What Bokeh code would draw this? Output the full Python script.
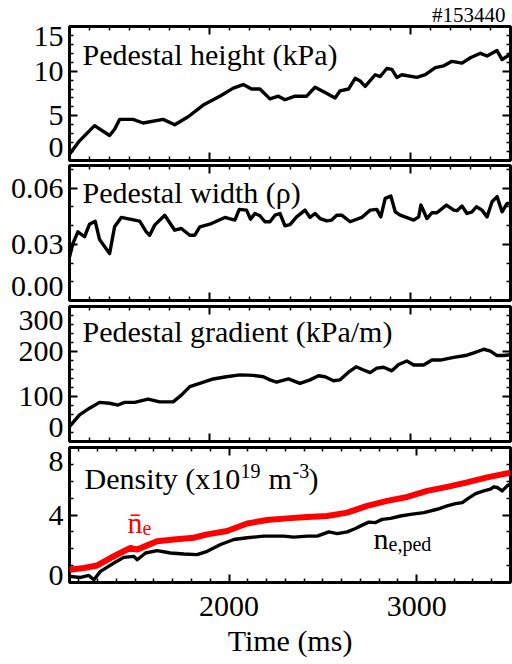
from bokeh.plotting import figure
from bokeh.layouts import column
from bokeh.models import Range1d, LinearAxis, FixedTicker, Label
from bokeh.embed import file_html
from bokeh.resources import INLINE

# ---------------- data ----------------
shot_label = "#153440"

t_height = [1300, 1350, 1425, 1500, 1525, 1550, 1617, 1667, 1767, 1825,
            1892, 1967, 2050, 2117, 2167, 2208, 2250, 2300, 2342, 2375,
            2425, 2483, 2525, 2575, 2625, 2650, 2692, 2725, 2750, 2775,
            2825, 2850, 2883, 2908, 2933, 2958, 3033, 3075, 3125, 3167,
            3208, 3258, 3300, 3350, 3383, 3433, 3458, 3500]
ped_height = [0.7, 2.2, 3.9, 2.8, 3.5, 4.6, 4.6, 4.2, 4.6, 4.0,
              4.9, 6.2, 7.2, 8.1, 8.5, 8.0, 8.0, 6.9, 7.2, 6.8,
              7.2, 7.2, 8.2, 7.6, 7.0, 7.8, 8.0, 9.2, 8.9, 8.3,
              9.6, 9.4, 10.3, 10.2, 9.3, 9.6, 9.3, 9.6, 10.4, 10.6,
              11.1, 10.9, 11.5, 12.0, 11.7, 12.3, 11.3, 11.9]

t_width = [1300, 1317, 1342, 1375, 1400, 1428, 1450, 1500, 1525, 1558,
           1650, 1683, 1700, 1725, 1775, 1825, 1858, 1900, 1925, 1950,
           2000, 2075, 2125, 2147, 2183, 2203, 2225, 2250, 2275, 2300,
           2325, 2350, 2375, 2400, 2433, 2475, 2500, 2525, 2550, 2583,
           2608, 2633, 2658, 2700, 2758, 2800, 2833, 2853, 2875, 2903,
           2925, 2950, 3017, 3042, 3053, 3083, 3108, 3133, 3180, 3217,
           3233, 3258, 3283, 3308, 3330, 3358, 3383, 3408, 3433, 3458,
           3483, 3500]
ped_width = [0.0232, 0.0304, 0.0366, 0.0340, 0.0407, 0.0423, 0.0325, 0.0250, 0.0393, 0.0443,
             0.0423, 0.0366, 0.0348, 0.0402, 0.0455, 0.0375, 0.0384, 0.0348, 0.0348, 0.0393,
             0.0407, 0.0443, 0.0429, 0.0486, 0.0482, 0.0434, 0.0464, 0.0452, 0.0420, 0.0420,
             0.0455, 0.0464, 0.0398, 0.0405, 0.0446, 0.0482, 0.0443, 0.0464, 0.0437, 0.0425,
             0.0429, 0.0455, 0.0455, 0.0420, 0.0443, 0.0482, 0.0486, 0.0446, 0.0545, 0.0557,
             0.0473, 0.0455, 0.0429, 0.0446, 0.0509, 0.0437, 0.0468, 0.0468, 0.0509, 0.0482,
             0.0479, 0.0504, 0.0464, 0.0473, 0.0500, 0.0482, 0.0446, 0.0527, 0.0554, 0.0473,
             0.0518, 0.0518]

t_grad = [1300, 1350, 1400, 1450, 1500, 1542, 1575, 1625, 1692, 1750,
          1817, 1858, 1900, 1950, 2017, 2083, 2150, 2217, 2267, 2300,
          2333, 2392, 2450, 2500, 2542, 2575, 2617, 2650, 2692, 2730,
          2767, 2800, 2833, 2867, 2908, 2942, 2983, 3017, 3067, 3108,
          3150, 3217, 3275, 3317, 3367, 3400, 3433, 3467, 3500]
ped_grad = [33, 59, 74, 87, 85, 81, 87, 87, 94, 88,
            88, 103, 122, 129, 139, 144, 148, 147, 144, 137,
            132, 139, 129, 137, 146, 144, 135, 137, 154, 166,
            159, 153, 163, 165, 157, 171, 179, 170, 170, 181,
            181, 187, 191, 197, 205, 201, 191, 191, 193]

t_ne_ped = [1150, 1209, 1253, 1280, 1315, 1386, 1439, 1493, 1511, 1555,
            1617, 1688, 1759, 1830, 1884, 1955, 2026, 2097, 2185, 2292,
            2345, 2417, 2470, 2532, 2577, 2630, 2674, 2710, 2745, 2781,
            2816, 2861, 2914, 2967, 3038, 3109, 3163, 3207, 3243, 3269,
            3314, 3358, 3393, 3411, 3429, 3456, 3482, 3500]
ne_ped = [0.36, 0.30, 0.42, 0.16, 0.66, 1.15, 1.49, 1.55, 1.35, 1.75,
          1.89, 1.75, 1.69, 1.65, 1.85, 2.25, 2.55, 2.65, 2.75, 2.75,
          2.69, 2.75, 2.75, 3.00, 2.90, 3.00, 3.20, 3.40, 3.58, 3.55,
          3.74, 3.80, 3.94, 4.04, 4.14, 4.34, 4.54, 4.67, 4.73, 4.94,
          5.27, 5.43, 5.53, 5.67, 5.63, 5.43, 5.73, 5.83]

t_ne_bar = [1150, 1226, 1298, 1368, 1439, 1475, 1511, 1564, 1617, 1706,
            1812, 1884, 1990, 2097, 2203, 2310, 2417, 2523, 2630, 2736,
            2843, 2950, 3056, 3163, 3269, 3376, 3447, 3500]
ne_bar = [0.76, 0.86, 1.01, 1.45, 1.85, 2.05, 1.95, 2.20, 2.45, 2.55,
          2.65, 2.85, 3.05, 3.50, 3.70, 3.80, 3.88, 3.94, 4.14, 4.54,
          4.84, 5.07, 5.43, 5.67, 5.93, 6.23, 6.39, 6.50]

x_range_top = (1300, 3500)
x_range_bottom = (1150, 3500)
x_major = [2000, 3000]
x_minor = [1200, 1300, 1400, 1500, 1600, 1700, 1800, 1900, 2100, 2200, 2300,
           2400, 2500, 2600, 2700, 2800, 2900, 3100, 3200, 3300, 3400]

h_range = (0, 15)
h_major = [0, 5, 10, 15]
h_minor = [1, 2, 3, 4, 6, 7, 8, 9, 11, 12, 13, 14]
h_text = ["0", "5", "10", "15"]

w_range = (0, 0.072)
w_major = [0, 0.03, 0.06]
w_minor = [0.01, 0.02, 0.04, 0.05, 0.07]
w_text = ["0.00", "0.03", "0.06"]

g_range = (0, 300)
g_major = [0, 100, 200, 300]
g_minor = [20, 40, 60, 80, 120, 140, 160, 180, 220, 240, 260, 280]
g_text = ["0", "100", "200", "300"]

n_range = (0, 8)
n_major = [0, 4, 8]
n_minor = [1, 2, 3, 5, 6, 7]
n_text = ["0", "4", "8"]

# ---------------- layout constants ----------------
W = 512
FL = 69          # frame left
FW = 441         # frame width
FH = 135         # frame height
FONT = "Liberation Serif"


def ticks_only(ax, major, minor):
    ax.ticker = FixedTicker(ticks=major, minor_ticks=minor)
    ax.axis_line_color = None
    ax.major_tick_in = 8
    ax.major_tick_out = 0
    ax.minor_tick_in = 4
    ax.minor_tick_out = 0
    ax.major_tick_line_color = "black"
    ax.minor_tick_line_color = "black"
    ax.major_tick_line_width = 2
    ax.minor_tick_line_width = 1.5
    ax.major_label_text_color = None
    ax.major_label_text_font_size = "0px"
    ax.major_label_standoff = 0


def label_style(ax, standoff):
    ax.axis_line_color = None
    ax.major_tick_line_color = None
    ax.minor_tick_line_color = None
    ax.major_tick_in = 0
    ax.major_tick_out = 0
    ax.minor_tick_in = 0
    ax.minor_tick_out = 0
    ax.major_label_text_font = FONT
    ax.major_label_text_font_size = "30px"
    ax.major_label_text_color = "black"
    ax.major_label_standoff = standoff


def panel(xr, yr, height, top, bottom, ymaj, ymin, ytext, shift_bottom, shift_top):
    p = figure(width=W, height=height, x_range=Range1d(*xr), y_range=Range1d(*yr),
               output_backend="svg", toolbar_location=None,
               min_border_left=FL, min_border_right=W - FL - FW,
               min_border_top=top, min_border_bottom=bottom)
    p.background_fill_color = "white"
    p.border_fill_color = "white"
    p.outline_line_color = "black"
    p.outline_line_width = 3
    p.xgrid.visible = False
    p.ygrid.visible = False
    ticks_only(p.yaxis[0], ymaj, ymin)
    ticks_only(p.xaxis[0], x_major, x_minor)
    right = LinearAxis()
    ticks_only(right, ymaj, ymin)
    p.add_layout(right, "right")
    above = LinearAxis()
    ticks_only(above, x_major, x_minor)
    p.add_layout(above, "above")
    # y tick labels; like the reference, the labels of the end ticks sit inside the frame height
    per_px = (yr[1] - yr[0]) / FH
    pos = []
    for v in ymaj:
        if v == yr[0]:
            pos.append(v + shift_bottom * per_px)
        elif v == yr[1]:
            pos.append(v - shift_top * per_px)
        else:
            pos.append(v)
    lab = LinearAxis(ticker=FixedTicker(ticks=pos, minor_ticks=[]))
    label_style(lab, 6)
    lab.major_label_overrides = {q: t for q, t in zip(pos, ytext)}
    p.add_layout(lab, "left")
    return p


def add_text(p, xr, yr, ftop, px, py, text, size, color="black", align="left"):
    # px, py: pixel position inside this figure (py measured from figure top)
    x = xr[0] + (px - FL) * (xr[1] - xr[0]) / FW
    y = yr[0] + (ftop + FH - py) * (yr[1] - yr[0]) / FH
    p.add_layout(Label(x=x, y=y, text=text, text_font=FONT, text_font_size=size,
                       text_color=color, text_align=align, text_baseline="alphabetic"))


# Panel 1: pedestal height   (page y 0-164, frame 25-160)
p1 = panel(x_range_top, h_range, 164, 25, 4, h_major, h_minor, h_text, 13, 10)
p1.line(t_height, ped_height, line_color="black", line_width=3.4, line_join="round")
add_text(p1, x_range_top, h_range, 25, 82, 53, "Pedestal height (kPa)", "30px")
p1.title.text = shot_label
p1.title.align = "right"
p1.title.text_font = FONT
p1.title.text_font_size = "21px"
p1.title.text_font_style = "normal"
p1.title.text_color = "black"
p1.title.standoff = 0
p1.title.offset = 5

# Panel 2: pedestal width    (page y 164-303, frame 165-300)
p2 = panel(x_range_top, w_range, 139, 1, 3, w_major, w_minor, w_text, 14, 14)
p2.line(t_width, ped_width, line_color="black", line_width=3.4, line_join="round")
add_text(p2, x_range_top, w_range, 1, 82, 192 - 164, "Pedestal width (\u03c1)", "30px")

# Panel 3: pedestal gradient (page y 303-444, frame 306-441)
p3 = panel(x_range_top, g_range, 141, 3, 3, g_major, g_minor, g_text, 14, 14)
p3.line(t_grad, ped_grad, line_color="black", line_width=3.4, line_join="round")
add_text(p3, x_range_top, g_range, 3, 82, 331 - 303, "Pedestal gradient (kPa/m)", "30px")

# Panel 4: density           (page y 444-664, frame 447-582)
p4 = panel(x_range_bottom, n_range, 220, 3, 82, n_major, n_minor, n_text, 7, 14)
p4.line(t_ne_bar, ne_bar, line_color="#ff0000", line_width=6, line_join="round")
p4.line(t_ne_ped, ne_ped, line_color="black", line_width=3.4, line_join="round")
xa = p4.below[0]
xa.major_label_text_color = "black"
xa.major_label_text_font = FONT
xa.major_label_text_font_size = "30px"
xa.major_label_standoff = 14
xa.axis_label = "Time (ms)"
xa.axis_label_text_font = FONT
xa.axis_label_text_font_size = "30px"
xa.axis_label_text_font_style = "normal"
xa.axis_label_text_color = "black"
xa.axis_label_standoff = 5
o4 = 444
add_text(p4, x_range_bottom, n_range, 3, 84, 478 - o4, "Density (x10", "30px")
add_text(p4, x_range_bottom, n_range, 3, 240, 470 - o4, "19", "20px")
add_text(p4, x_range_bottom, n_range, 3, 268, 478 - o4, "m", "30px")
add_text(p4, x_range_bottom, n_range, 3, 292, 470 - o4, "-3", "20px")
add_text(p4, x_range_bottom, n_range, 3, 308, 478 - o4, ")", "30px")
add_text(p4, x_range_bottom, n_range, 3, 127, 522 - o4, "n\u0304", "30px", color="#ff0000")
add_text(p4, x_range_bottom, n_range, 3, 142, 527 - o4, "e", "20px", color="#ff0000")
add_text(p4, x_range_bottom, n_range, 3, 373, 538 - o4, "n", "30px")
add_text(p4, x_range_bottom, n_range, 3, 388, 543 - o4, "e,ped", "20px")

layout = column(p1, p2, p3, p4, spacing=0)
open("out.html", "w").write(file_html(layout, INLINE))
